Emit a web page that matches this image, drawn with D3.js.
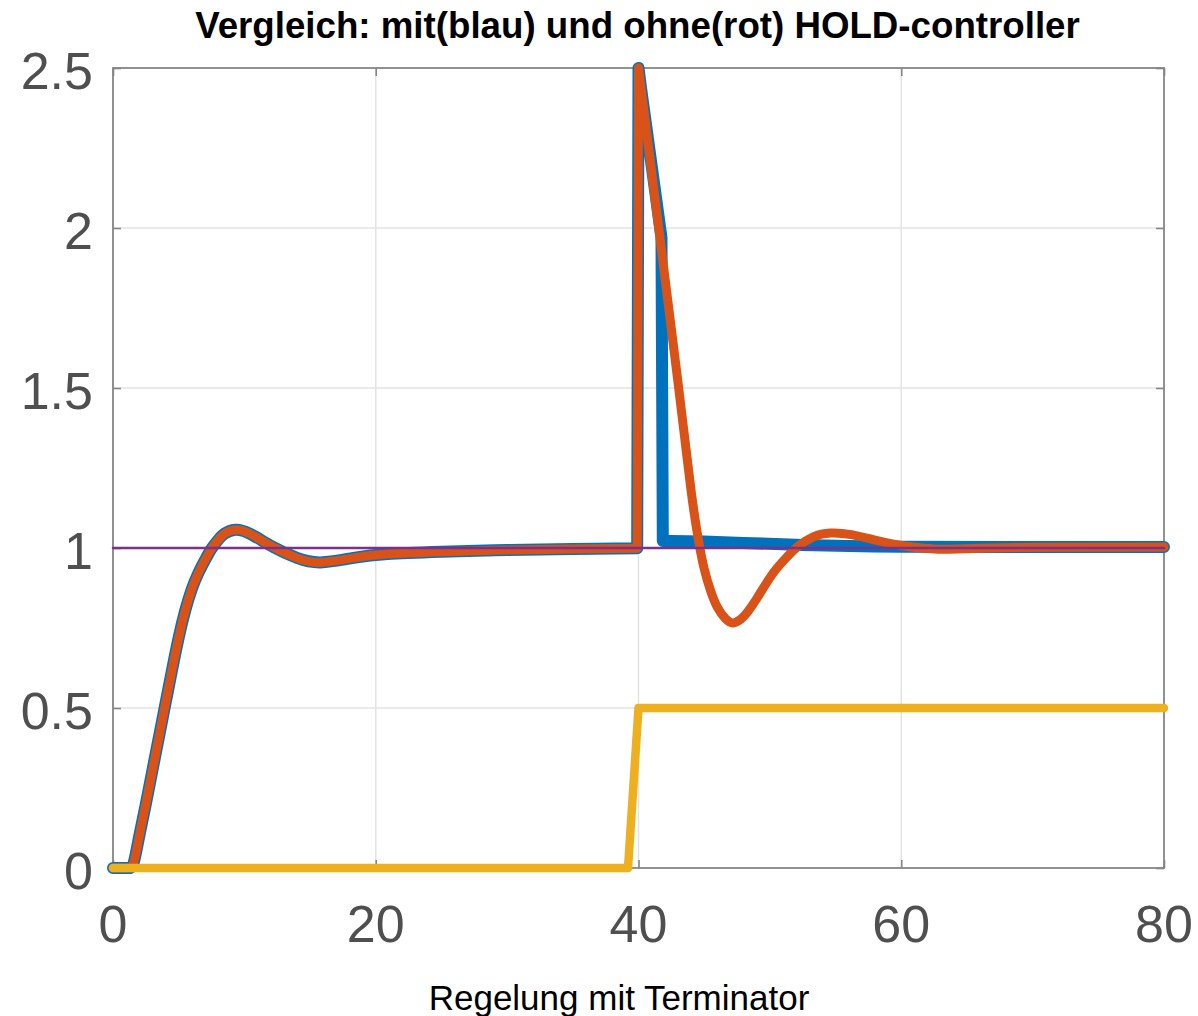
<!DOCTYPE html>
<html>
<head>
<meta charset="utf-8">
<script src="https://cdn.jsdelivr.net/npm/d3@7"></script>
<style>
  html, body { margin: 0; padding: 0; background: #fff; }
  svg { display: block; }
</style>
</head>
<body>
<svg id="chart" width="1198" height="1016"></svg>
<script>
// Axis ticks
const xTicks = [0, 20, 40, 60, 80];
const yTicks = [0, 0.5, 1, 1.5, 2, 2.5];
const yTickLabels = ["0", "0.5", "1", "1.5", "2", "2.5"];

// Response without HOLD-controller (rot)
const tOhne = [0, 1.3, 1.6, 2.0, 2.5, 3.0, 3.5, 4.0, 4.5, 5.0, 5.5, 6.0, 6.5, 7.0, 7.5, 8.0, 8.5, 9.3, 10.4, 12.2, 14.0, 15.8, 18.3, 20.9, 25, 30, 35, 39.9,
               40.0, 40.2, 41.6, 43.0, 43.5, 44.0, 44.5, 45.0, 45.5, 46.0, 46.6, 47.2, 47.8, 48.3, 49.0, 49.7, 50.5, 51.3, 52.1, 53.3, 54.6, 56.2, 58.0, 60.0, 62.5, 65, 70, 80];
const yOhne = [0, 0, 0.02, 0.1, 0.2, 0.305, 0.41, 0.515, 0.62, 0.72, 0.805, 0.872, 0.922, 0.962, 0.998, 1.025, 1.045, 1.057, 1.045, 1.003, 0.969, 0.955, 0.969, 0.981, 0.988, 0.994, 0.997, 0.999,
               2.5, 2.435, 1.98, 1.52, 1.35, 1.18, 1.04, 0.935, 0.865, 0.815, 0.78, 0.766, 0.778, 0.80, 0.842, 0.888, 0.935, 0.972, 1.004, 1.035, 1.047, 1.042, 1.025, 1.008, 0.997, 0.998, 1.002, 1.003];
// time ranges: dead time, smooth rise, straight spike, smooth recovery
const segOhne = [[0, 1.3, "straight"], [1.3, 39.9, "smooth"], [39.9, 43.0, "straight"], [43.0, 80, "smooth"]];

// Response with HOLD-controller (blau)
const tMit = [0, 1.3, 1.6, 2.0, 2.5, 3.0, 3.5, 4.0, 4.5, 5.0, 5.5, 6.0, 6.5, 7.0, 7.5, 8.0, 8.5, 9.3, 10.4, 12.2, 14.0, 15.8, 18.3, 20.9, 25, 30, 35, 39.9,
              40.0, 40.2, 41.75, 41.85, 42.5, 45, 48, 52, 56, 60, 70, 80];
const yMit = [0, 0, 0.02, 0.1, 0.2, 0.305, 0.41, 0.515, 0.62, 0.72, 0.805, 0.872, 0.922, 0.962, 0.998, 1.025, 1.045, 1.057, 1.045, 1.003, 0.969, 0.955, 0.969, 0.981, 0.988, 0.994, 0.997, 0.999,
              2.5, 2.435, 1.97, 1.022, 1.022, 1.02, 1.016, 1.01, 1.006, 1.004, 1.003, 1.003];
const segMit = [[0, 1.3, "straight"], [1.3, 39.9, "smooth"], [39.9, 42.5, "straight"], [42.5, 80, "smooth"]];

// Disturbance step
const tStoer = [0, 39.2, 40.0, 80];
const yStoer = [0, 0, 0.5, 0.5];

// Setpoint
const tSoll = [0, 80];
const ySoll = [1, 1];

const svg = d3.select("#chart");
const x = d3.scaleLinear().domain([0, 80]).range([113, 1164]);
const y = d3.scaleLinear().domain([0, 2.5]).range([868, 68]);

const frameColor = "#858585";
const labelColor = "#4f4f4f";
const font = "'Liberation Sans', Arial, Helvetica, sans-serif";

// Grid
const grid = svg.append("g");
grid.selectAll("line.gx").data(xTicks.slice(1, -1)).enter().append("line")
  .attr("x1", d => x(d)).attr("x2", d => x(d))
  .attr("y1", y(0)).attr("y2", y(2.5))
  .attr("stroke", "#e3e3e3").attr("stroke-width", 1.5);
grid.selectAll("line.gy").data(yTicks.slice(1, -1)).enter().append("line")
  .attr("x1", x(0)).attr("x2", x(80))
  .attr("y1", d => y(d)).attr("y2", d => y(d))
  .attr("stroke", "#e3e3e3").attr("stroke-width", 1.5);

// Box with inward ticks on all sides
const axes = svg.append("g");
const tickLen = 8;
const styleAxis = (g) => {
  g.select(".domain").remove();
  g.selectAll(".tick line").attr("stroke", frameColor).attr("stroke-width", 1.6);
  g.selectAll(".tick text").remove();
};
axes.append("g").attr("transform", `translate(0,${y(0)})`)
  .call(d3.axisBottom(x).tickValues(xTicks).tickSizeInner(-tickLen).tickSizeOuter(0)).call(styleAxis);
axes.append("g").attr("transform", `translate(0,${y(2.5)})`)
  .call(d3.axisTop(x).tickValues(xTicks).tickSizeInner(-tickLen).tickSizeOuter(0)).call(styleAxis);
axes.append("g").attr("transform", `translate(${x(0)},0)`)
  .call(d3.axisLeft(y).tickValues(yTicks).tickSizeInner(-tickLen).tickSizeOuter(0)).call(styleAxis);
axes.append("g").attr("transform", `translate(${x(80)},0)`)
  .call(d3.axisRight(y).tickValues(yTicks).tickSizeInner(-tickLen).tickSizeOuter(0)).call(styleAxis);
axes.append("rect")
  .attr("x", x(0)).attr("y", y(2.5))
  .attr("width", x(80) - x(0)).attr("height", y(0) - y(2.5))
  .attr("fill", "none").attr("stroke", frameColor).attr("stroke-width", 1.8);

// Tick labels
svg.append("g").selectAll("text").data(xTicks).enter().append("text")
  .attr("x", d => x(d)).attr("y", y(0) + 74)
  .attr("text-anchor", "middle")
  .attr("font-family", font).attr("font-size", 52).attr("fill", labelColor)
  .text(d => d);
svg.append("g").selectAll("text").data(yTicks).enter().append("text")
  .attr("x", x(0) - 20).attr("y", d => y(d) + 21)
  .attr("text-anchor", "end")
  .attr("font-family", font).attr("font-size", 52).attr("fill", labelColor)
  .text((d, i) => yTickLabels[i]);

// Curves: smooth stretches through the knots, straight pieces for dead time and jump
const zip = (ts, ys) => ts.map((t, i) => [t, ys[i]]);
const smooth = d3.line().x(d => x(d[0])).y(d => y(d[1])).curve(d3.curveNatural);
const straight = d3.line().x(d => x(d[0])).y(d => y(d[1]));
const piecewise = (pts, segs) => segs
  .map(([a, b, kind]) => (kind === "smooth" ? smooth : straight)(pts.filter(p => p[0] >= a && p[0] <= b)))
  .join("");

const series = [
  { d: piecewise(zip(tMit, yMit), segMit), color: "#0072BD", width: 12 },
  { d: piecewise(zip(tOhne, yOhne), segOhne), color: "#D95319", width: 9 },
  { d: straight(zip(tStoer, yStoer)), color: "#EDB120", width: 8.5 },
  { d: straight(zip(tSoll, ySoll)), color: "#7E2F8E", width: 2.5 }
];
svg.append("g").selectAll("path").data(series).enter().append("path")
  .attr("d", s => s.d)
  .attr("fill", "none")
  .attr("stroke", s => s.color)
  .attr("stroke-width", s => s.width)
  .attr("stroke-linejoin", "round")
  .attr("stroke-linecap", "round");

// Title and caption
svg.append("text")
  .attr("x", 637.5).attr("y", 38)
  .attr("text-anchor", "middle")
  .attr("font-family", font).attr("font-weight", "bold").attr("font-size", 36.7)
  .attr("fill", "#000")
  .text("Vergleich: mit(blau) und ohne(rot) HOLD-controller");

svg.append("text")
  .attr("x", 619).attr("y", 1010)
  .attr("text-anchor", "middle")
  .attr("font-family", font).attr("font-size", 35)
  .attr("fill", "#000")
  .text("Regelung mit Terminator");
</script>
</body>
</html>
